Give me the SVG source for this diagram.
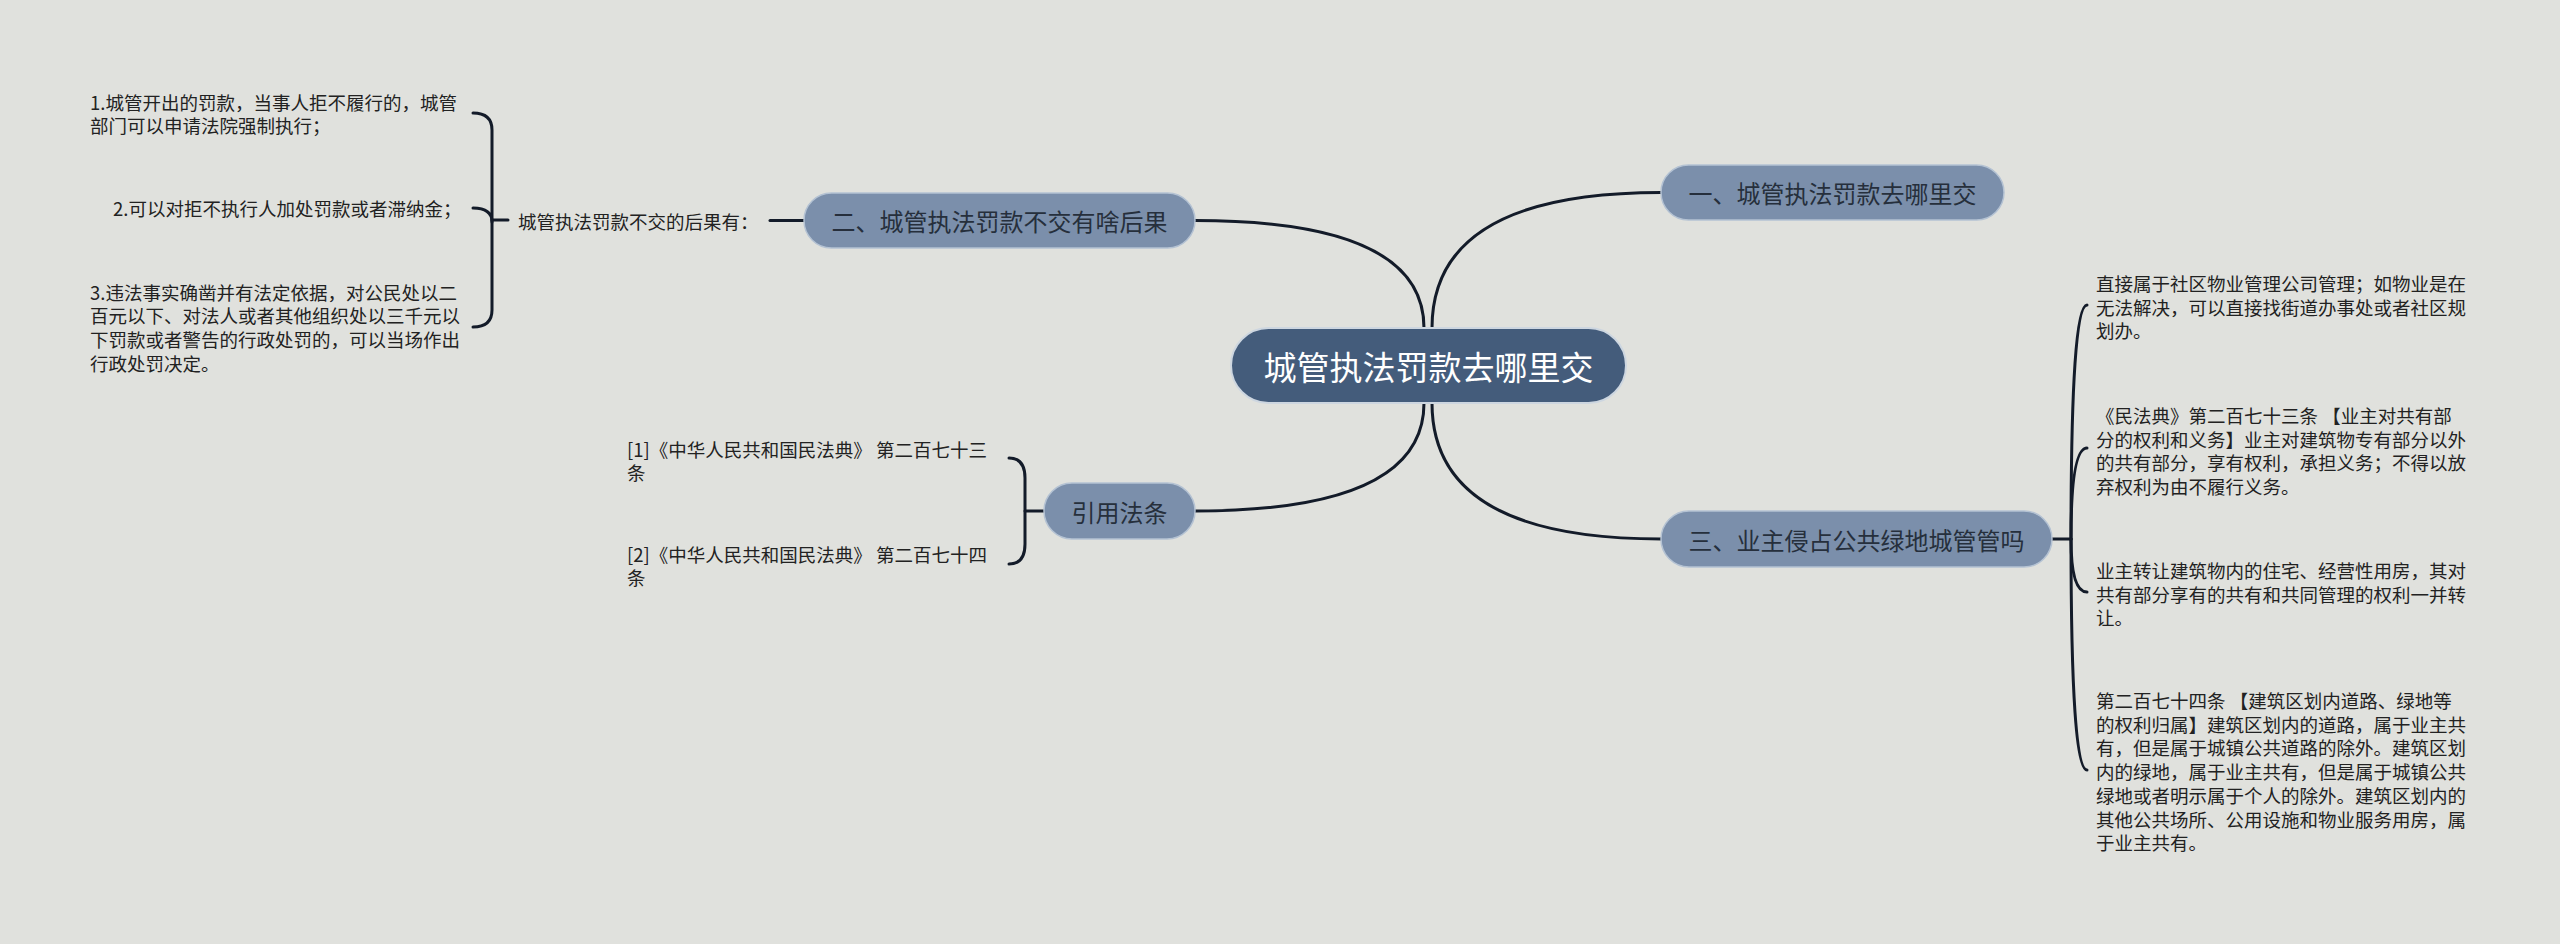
<svg xmlns="http://www.w3.org/2000/svg" width="2560" height="944" viewBox="0 0 2560 944">
<style>
.bg{fill:#e0e1dd}
.conn{fill:none;stroke:#131b29;stroke-width:3;stroke-linecap:round}
.root{fill:#445c7b;stroke:#cdd6e0;stroke-width:2}
.branch{fill:#7b8fab;stroke:#b4c2d3;stroke-width:1.5}
.rt{font-family:"Noto Sans CJK SC","Liberation Sans",sans-serif;font-size:33px;fill:#ffffff;text-anchor:middle;dominant-baseline:central}
.bt{font-family:"Noto Sans CJK SC","Liberation Sans",sans-serif;font-size:24px;fill:#262f3c;text-anchor:middle;dominant-baseline:central}
.lt{font-family:"Noto Sans CJK SC","Liberation Sans",sans-serif;font-size:18.5px;fill:#222222;dominant-baseline:central}
</style>
<rect class="bg" x="0" y="0" width="2560" height="944"/>
<g id="connectors">
<path class="conn" d="M1424,328 Q1424,220.5 1195,220.5"/>
<path class="conn" d="M1432,328 Q1432,192.5 1661,192.5"/>
<path class="conn" d="M1424,403 Q1424,511 1195,511"/>
<path class="conn" d="M1432,403 Q1432,539 1661,539"/>
<path class="conn" d="M770,220.5 H804"/>
<path class="conn" d="M492,220 H508"/>
<path class="conn" d="M473,113 Q492,113 492,130 V310 Q492,327 473,327"/>
<path class="conn" d="M492,222 Q492,208 473,208"/>
<path class="conn" d="M1044,511 H1025"/>
<path class="conn" d="M1009,458 Q1025,458 1025,478 V544 Q1025,564 1009,564"/>
<path class="conn" d="M2052,539 H2071"/>
<path class="conn" d="M2071,539 Q2071,305 2087,305"/>
<path class="conn" d="M2071,539 Q2071,448 2087,448"/>
<path class="conn" d="M2071,539 Q2071,592 2087,592"/>
<path class="conn" d="M2071,539 Q2071,770 2087,770"/>
</g>
<g id="root">
<rect class="root" x="1231" y="328" width="395" height="75" rx="37.5"/>
<text class="rt" x="1428.5" y="365.5">城管执法罚款去哪里交</text>
</g>
<g id="b1">
<rect class="branch" x="1661" y="165" width="343" height="55" rx="27.5"/>
<text class="bt" x="1832.5" y="192.5">一、城管执法罚款去哪里交</text>
</g>
<g id="b2">
<rect class="branch" x="804" y="193" width="391" height="55" rx="27.5"/>
<text class="bt" x="999.5" y="220.5">二、城管执法罚款不交有啥后果</text>
</g>
<g id="b3">
<rect class="branch" x="1661" y="511" width="391" height="56" rx="28"/>
<text class="bt" x="1856.5" y="539">三、业主侵占公共绿地城管管吗</text>
</g>
<g id="b4">
<rect class="branch" x="1044" y="483" width="151" height="56" rx="28"/>
<text class="bt" x="1119.5" y="511">引用法条</text>
</g>
<g id="b2-label">
<text class="lt" x="518" y="221">城管执法罚款不交的后果有：</text>
</g>
<g id="b2-c1">
<text class="lt" x="90" y="101.7">1.城管开出的罚款，当事人拒不履行的，城管</text>
<text class="lt" x="90" y="125.4">部门可以申请法院强制执行；</text>
</g>
<g id="b2-c2">
<text class="lt" x="113" y="208">2.可以对拒不执行人加处罚款或者滞纳金；</text>
</g>
<g id="b2-c3">
<text class="lt" x="90" y="291.7">3.违法事实确凿并有法定依据，对公民处以二</text>
<text class="lt" x="90" y="315.4">百元以下、对法人或者其他组织处以三千元以</text>
<text class="lt" x="90" y="339.1">下罚款或者警告的行政处罚的，可以当场作出</text>
<text class="lt" x="90" y="362.8">行政处罚决定。</text>
</g>
<g id="b4-c1">
<text class="lt" x="627" y="449">[1]《中华人民共和国民法典》 第二百七十三</text>
<text class="lt" x="627" y="472">条</text>
</g>
<g id="b4-c2">
<text class="lt" x="627" y="553.5">[2]《中华人民共和国民法典》 第二百七十四</text>
<text class="lt" x="627" y="576.7">条</text>
</g>
<g id="b3-c1">
<text class="lt" x="2096" y="283">直接属于社区物业管理公司管理；如物业是在</text>
<text class="lt" x="2096" y="306.7">无法解决，可以直接找街道办事处或者社区规</text>
<text class="lt" x="2096" y="330.4">划办。</text>
</g>
<g id="b3-c2">
<text class="lt" x="2096" y="415">《民法典》第二百七十三条 【业主对共有部</text>
<text class="lt" x="2096" y="438.7">分的权利和义务】业主对建筑物专有部分以外</text>
<text class="lt" x="2096" y="462.4">的共有部分，享有权利，承担义务；不得以放</text>
<text class="lt" x="2096" y="486.1">弃权利为由不履行义务。</text>
</g>
<g id="b3-c3">
<text class="lt" x="2096" y="570">业主转让建筑物内的住宅、经营性用房，其对</text>
<text class="lt" x="2096" y="593.7">共有部分享有的共有和共同管理的权利一并转</text>
<text class="lt" x="2096" y="617.4">让。</text>
</g>
<g id="b3-c4">
<text class="lt" x="2096" y="700">第二百七十四条 【建筑区划内道路、绿地等</text>
<text class="lt" x="2096" y="723.7">的权利归属】建筑区划内的道路，属于业主共</text>
<text class="lt" x="2096" y="747.4">有，但是属于城镇公共道路的除外。建筑区划</text>
<text class="lt" x="2096" y="771.1">内的绿地，属于业主共有，但是属于城镇公共</text>
<text class="lt" x="2096" y="794.8">绿地或者明示属于个人的除外。建筑区划内的</text>
<text class="lt" x="2096" y="818.5">其他公共场所、公用设施和物业服务用房，属</text>
<text class="lt" x="2096" y="842.2">于业主共有。</text>
</g>
</svg>
